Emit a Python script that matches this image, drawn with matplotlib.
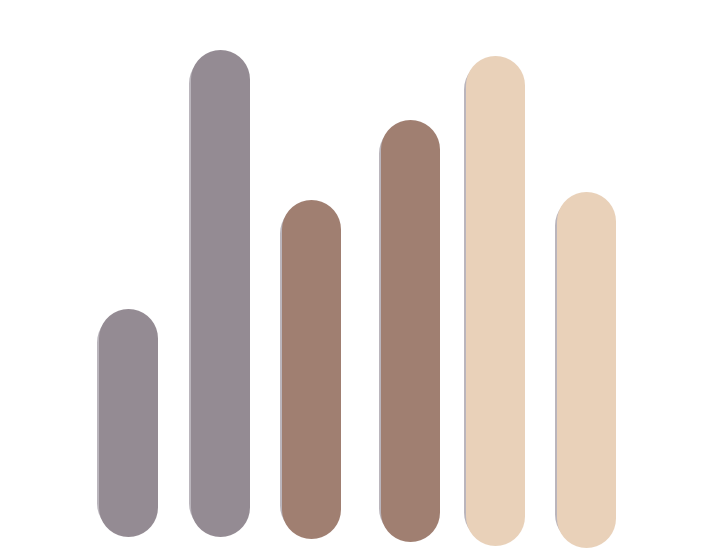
import matplotlib
matplotlib.use('Agg')
import matplotlib.pyplot as plt

# bar data (pixel-like units, origin at bottom left of the canvas)
centers = [128, 220, 311, 410, 495, 586]
tops = [251, 510, 360, 440, 504, 368]
bottoms = [23, 23, 21, 18, 14, 12]
colors = ['#948b93', '#948b93', '#a07f71', '#a07f71', '#e9d1b9', '#e9d1b9']

W, H = 718, 559
DPI = 100
bar_px = 59
lw = bar_px * 72 / DPI

fig = plt.figure(figsize=(W / DPI, H / DPI), dpi=DPI)
ax = fig.add_axes([0, 0, 1, 1])
ax.set_xlim(0, W)
ax.set_ylim(0, H)
ax.axis('off')

r = bar_px / 2
for x, top, bot, c in zip(centers, tops, bottoms, colors):
    # faint sketchy shadow on the left edge
    ax.plot([x - 2, x - 2], [bot + r + 4, top - r - 4], color='#8c8490',
            lw=lw, solid_capstyle='round', alpha=0.6, zorder=1)
    ax.plot([x, x], [bot + r, top - r], color=c, lw=lw,
            solid_capstyle='round', zorder=2)

fig.savefig('out.png', dpi=DPI)
